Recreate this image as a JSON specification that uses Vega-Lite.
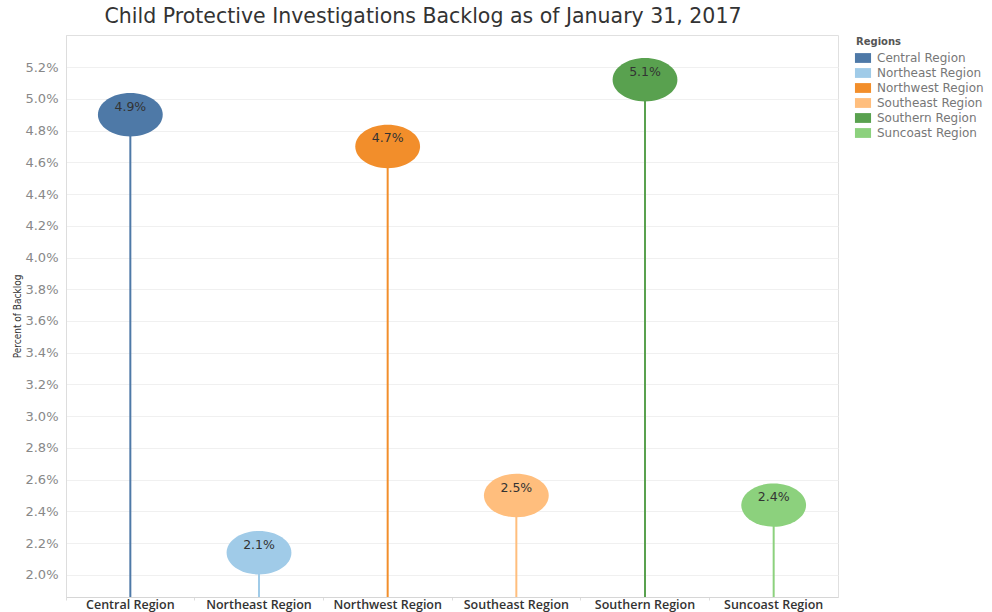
{
  "$schema": "https://vega.github.io/schema/vega-lite/v6.json",
  "autosize": {"type": "none"},
  "padding": {"left": 66, "top": 35, "right": 154, "bottom": 15},
  "width": 772,
  "height": 562,
  "background": "white",
  "title": {
    "text": "Child Protective Investigations Backlog as of January 31, 2017",
    "font": "DejaVu Sans",
    "fontSize": 20.5,
    "fontWeight": "normal",
    "color": "#333333",
    "anchor": "middle",
    "frame": "group",
    "dx": -29,
    "dy": 20,
    "offset": 8,
    "baseline": "bottom"
  },
  "config": {
    "view": {"stroke": "#e0e0e0"},
    "font": "DejaVu Sans"
  },
  "data": {
    "values": [
      {"region": "Central Region", "backlog": 0.0490},
      {"region": "Northeast Region", "backlog": 0.0214},
      {"region": "Northwest Region", "backlog": 0.0470},
      {"region": "Southeast Region", "backlog": 0.0250},
      {"region": "Southern Region", "backlog": 0.0512},
      {"region": "Suncoast Region", "backlog": 0.0244}
    ]
  },
  "encoding": {
    "x": {
      "field": "region",
      "type": "nominal",
      "sort": null,
      "scale": {"paddingInner": 0, "paddingOuter": 0},
      "axis": {
        "title": null,
        "labelAngle": 0,
        "bandPosition": 0,
        "ticks": true,
        "tickSize": 3,
        "tickColor": "#dddddd",
        "domainColor": "#d6d6d6",
        "grid": false,
        "labelFont": "Open Sans",
        "labelFontWeight": 600,
        "labelFontSize": 12.5,
        "labelColor": "#333333",
        "labelPadding": -1.5,
        "labelBaseline": "top"
      }
    },
    "y": {
      "field": "backlog",
      "type": "quantitative",
      "scale": {"domain": [0.01861, 0.05402], "nice": false, "zero": false},
      "axis": {
        "title": "Percent of Backlog",
        "titleFont": "DejaVu Sans Condensed",
        "titleFontSize": 10,
        "titleFontWeight": "normal",
        "titleColor": "#333333",
        "titleX": -49,
        "titleY": 281,
        "titleAngle": -90,
        "titleAlign": "center",
        "titleBaseline": "middle",
        "format": ".1%",
        "values": [0.020, 0.022, 0.024, 0.026, 0.028, 0.030, 0.032, 0.034, 0.036, 0.038, 0.040, 0.042, 0.044, 0.046, 0.048, 0.050, 0.052],
        "ticks": false,
        "labelPadding": 8,
        "labelFontSize": 13,
        "labelColor": "#888888",
        "domainColor": "#dddddd",
        "gridColor": "#f0f0f0",
        "grid": true
      }
    },
    "color": {
      "field": "region",
      "type": "nominal",
      "scale": {
        "domain": ["Central Region", "Northeast Region", "Northwest Region", "Southeast Region", "Southern Region", "Suncoast Region"],
        "range": ["#4e79a7", "#a0cbe8", "#f28e2b", "#ffbe7d", "#59a14f", "#8cd17d"]
      },
      "legend": {
        "title": "Regions",
        "orient": "none",
        "legendX": 790,
        "legendY": 2,
        "titleFontSize": 10,
        "titleFontWeight": "bold",
        "titleColor": "#555555",
        "titlePadding": 4,
        "labelFontSize": 12,
        "labelColor": "#777777",
        "labelOffset": 7,
        "rowPadding": 2,
        "symbolType": "M-1.15,-0.7H1.15V0.7H-1.15Z",
        "symbolSize": 196,
        "symbolStrokeWidth": 0,
        "symbolOpacity": 1
      }
    }
  },
  "layer": [
    {
      "mark": {"type": "rule", "strokeWidth": 2},
      "encoding": {"y2": {"datum": 0.01861}}
    },
    {
      "mark": {
        "type": "point",
        "filled": true,
        "opacity": 1,
        "shape": "M-1,0A1,0.67,0,1,1,1,0A1,0.67,0,1,1,-1,0Z",
        "size": 4200
      }
    },
    {
      "mark": {"type": "text", "dy": -8, "fontSize": 12.5, "color": "#333333", "font": "DejaVu Sans"},
      "encoding": {
        "text": {"field": "backlog", "type": "quantitative", "format": ".1%"},
        "color": {"value": "#333333"}
      }
    }
  ]
}
